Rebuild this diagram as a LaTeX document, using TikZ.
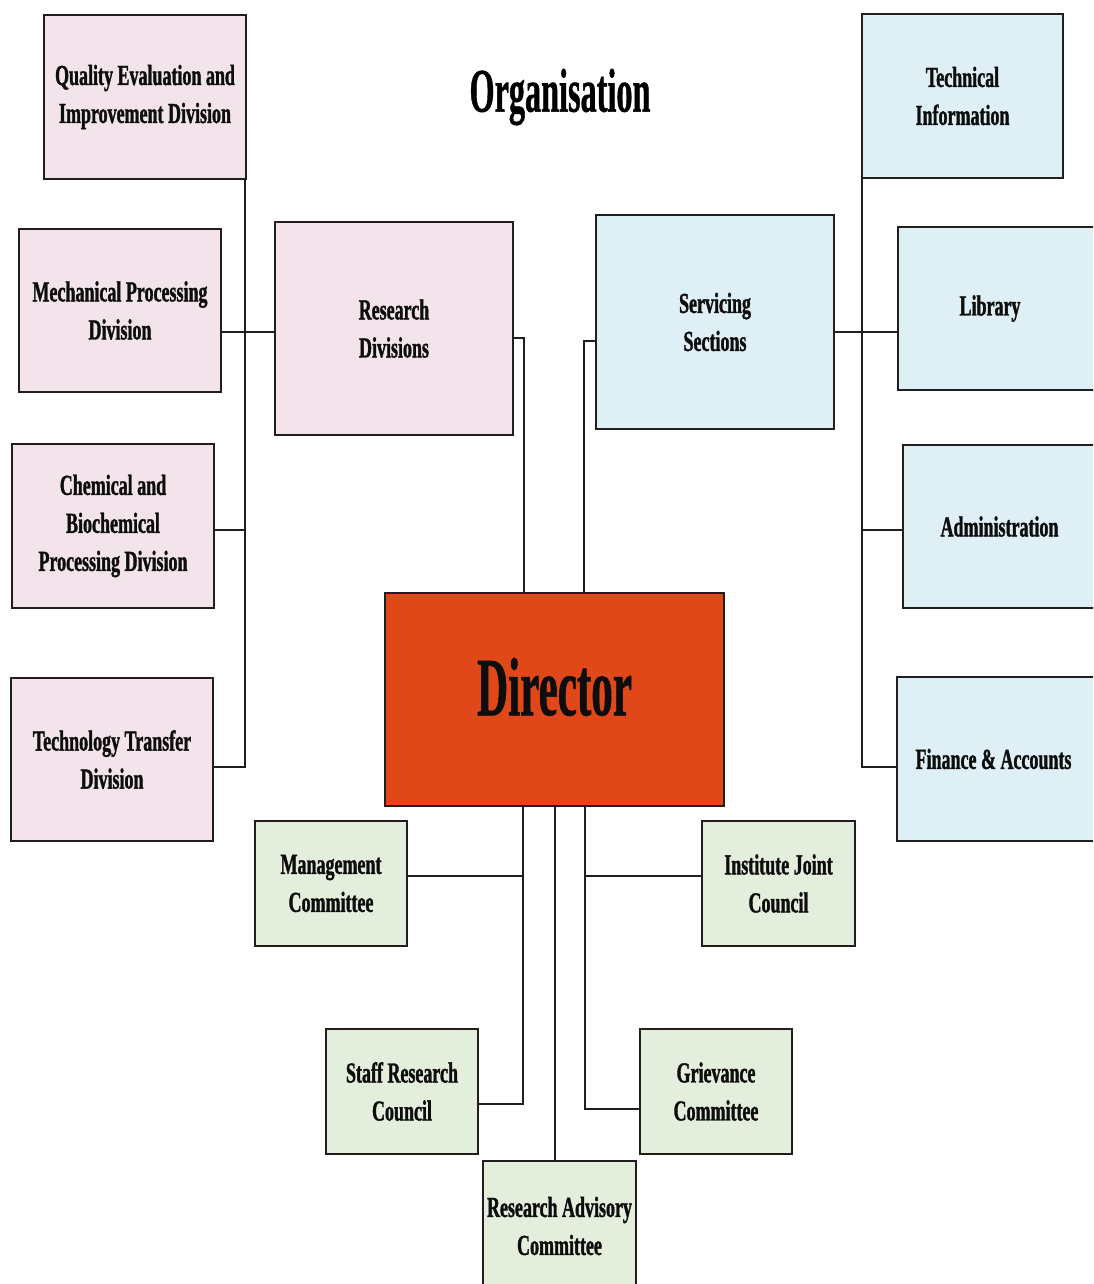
\documentclass[tikz,border=0pt]{standalone}
\usepackage{fontspec}
\setmainfont{Liberation Serif}[FakeStretch=0.6]
\newfontfamily\boxfont{Liberation Serif Bold}[FakeStretch=0.62,FakeBold=1.2]
\newfontfamily\bigfont{Liberation Serif Bold}[FakeStretch=0.52,FakeBold=0.6]
\definecolor{pinkf}{RGB}{243,228,235}
\definecolor{bluef}{RGB}{222,239,245}
\definecolor{greenf}{RGB}{228,238,220}
\definecolor{dirf}{RGB}{224,72,26}
\definecolor{linec}{RGB}{35,30,30}
\tikzset{
  box/.style={draw=linec, line width=2.4pt, inner sep=0pt, align=center,
    font=\fontsize{29}{38}\boxfont, text=black!95},
  pinkbox/.style={box, fill=pinkf},
  bluebox/.style={box, fill=bluef},
  greenbox/.style={box, fill=greenf},
  dirbox/.style={box, fill=dirf, font=\fontsize{83}{90}\bigfont},
  conn/.style={draw=linec, line width=1.3pt},
  wh/.style 2 args={minimum width=#1, minimum height=#2}
}
\begin{document}
\begin{tikzpicture}[x=1pt,y=-1pt]
\useasboundingbox[fill=white] (0,0) rectangle (1093,1284);
\clip (0,0) rectangle (1093,1284);
% title
\node[font=\fontsize{62}{70}\bigfont] (title) at (560,97) {Organisation};
% left column
\node[pinkbox, wh={202}{164}] (qeid) at (145,97) {Quality Evaluation and\\Improvement Division};
\node[pinkbox, wh={202}{163}] (mpd) at (120,310.5) {Mechanical Processing\\Division};
\node[pinkbox, wh={202}{164}] (cbpd) at (113,526) {Chemical and\\Biochemical\\Processing Division};
\node[pinkbox, wh={202}{163}] (ttd) at (112,759.5) {Technology Transfer\\Division};
\node[pinkbox, wh={238}{213}] (rd) at (394,328.5) {Research\\Divisions};
% right column
\node[bluebox, wh={238}{214}] (ss) at (715,322) {Servicing\\Sections};
\node[bluebox, wh={201}{164}] (ti) at (962.5,96) {Technical\\Information};
\node[bluebox, wh={198}{163}] (lib) at (997,308.5) {\hspace*{-14pt}Library};
\node[bluebox, wh={193}{163}] (adm) at (999.5,526.5) {Administration};
\node[bluebox, wh={199}{164}] (fin) at (996.5,759) {\hspace*{-6pt}Finance \& Accounts};
% director
\node[dirbox, wh={339}{213}] (dir) at (554.5,699.5) {\raisebox{26pt}{Director}};
% committees
\node[greenbox, wh={152}{125}] (mc) at (331,883.5) {Management\\Committee};
\node[greenbox, wh={153}{125}] (ijc) at (778.5,883.5) {Institute Joint\\Council};
\node[greenbox, wh={152}{125}] (src) at (402,1091.5) {Staff Research\\Council};
\node[greenbox, wh={152}{125}] (gc) at (716,1091.5) {Grievance\\Committee};
\node[greenbox, wh={153}{130}] (rac) at (559.5,1226) {Research Advisory\\Committee};
% left trunk
\coordinate (lt) at (245,767);
\draw[conn] (qeid.south -| lt) -- (lt) -- (lt -| ttd.east);
\draw[conn] (mpd.east |- 0,332) -- (rd.west |- 0,332);
\draw[conn] (cbpd.east |- 0,530) -- (lt |- 0,530);
% research / servicing to director
\draw[conn] (rd.east |- 0,338) -| (dir.north -| 524,0);
\draw[conn] (ss.west |- 0,341) -| (dir.north -| 584,0);
% right trunk
\coordinate (rt) at (862,768);
\draw[conn] (ti.south -| rt) -- (rt);
\draw[conn] (ss.east |- 0,332) -- (lib.west |- 0,332);
\draw[conn] (rt |- 0,530) -- (adm.west |- 0,530);
\draw[conn] (rt |- 0,767) -- (fin.west |- 0,767);
% bottom
\draw[conn] (dir.south -| 523,0) |- (src.east |- 0,1104);
\draw[conn] (mc.east |- 0,876) -- (523,876);
\draw[conn] (dir.south -| 555,0) -- (rac.north -| 555,0);
\draw[conn] (dir.south -| 585,0) |- (gc.west |- 0,1109);
\draw[conn] (ijc.west |- 0,876) -- (585,876);
\end{tikzpicture}
\end{document}
